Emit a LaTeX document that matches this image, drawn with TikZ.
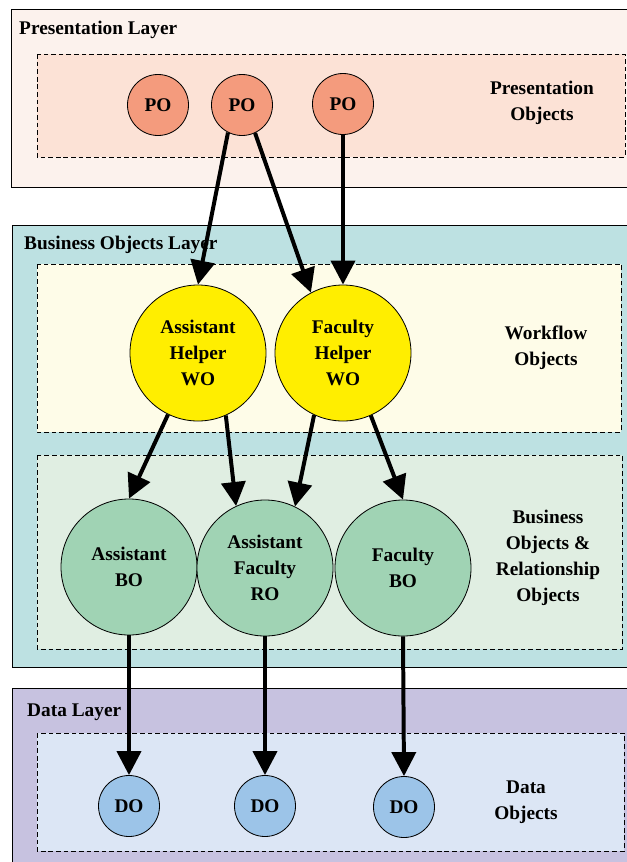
\documentclass[tikz,border=0pt]{standalone}
\usepackage{fontspec}
\setmainfont{Liberation Serif}
\usetikzlibrary{arrows.meta}

\definecolor{presout}{RGB}{252,242,237}
\definecolor{presin}{RGB}{252,226,214}
\definecolor{pofill}{RGB}{244,155,125}
\definecolor{busout}{RGB}{189,225,226}
\definecolor{wfin}{RGB}{254,252,232}
\definecolor{boin}{RGB}{224,238,226}
\definecolor{wofill}{RGB}{255,238,0}
\definecolor{bofill}{RGB}{160,211,180}
\definecolor{dataout}{RGB}{199,194,224}
\definecolor{datain}{RGB}{220,230,245}
\definecolor{dofill}{RGB}{156,196,232}

\begin{document}
\begin{tikzpicture}[x=0.03cm,y=-0.03cm,
    every node/.style={font=\fontsize{16.5}{22}\selectfont\bfseries, align=center, inner sep=0pt},
    layer/.style={draw=black, line width=0.8pt},
    group/.style={draw=black, line width=0.6pt, dash pattern=on 4pt off 2.5pt},
    obj/.style={circle, draw=black, line width=0.7pt},
    small/.style={obj, minimum size=1.83cm},
    big/.style={obj, minimum size=4.08cm},
    link/.style={line width=3.4pt, -{Triangle[length=0.72cm,width=0.72cm]}}]

        \useasboundingbox (0,0) rectangle (627,862);

        \filldraw[layer, fill=presout] (11,9) rectangle (640,187);
        \filldraw[group, fill=presin] (37,54) rectangle (625,157);
        \filldraw[layer, fill=busout] (12,225) rectangle (640,667);
        \filldraw[group, fill=wfin] (37,264) rectangle (621,432);
        \filldraw[group, fill=boin] (37,455) rectangle (622,649);
        \filldraw[layer, fill=dataout] (12,688) rectangle (640,880);
        \filldraw[group, fill=datain] (37,733) rectangle (624,851);

        \node[anchor=west] (presl) at (19,30) {Presentation Layer};
        \node[anchor=west] (busl) at (24,245) {Business Objects Layer};
        \node[anchor=west] (datal) at (27,712) {Data Layer};

        \node (prest) at (542,103) {Presentation\\Objects};
        \node (wft) at (546,348) {Workflow\\Objects};
        \node (bot) at (548,558) {Business\\Objects \&\\Relationship\\Objects};
        \node (datat) at (526,802) {Data\\Objects};

        \node[small, fill=pofill] (po1) at (158,105) {PO};
        \node[small, fill=pofill] (po2) at (242,105) {PO};
        \node[small, fill=pofill] (po3) at (343,104) {PO};

        \node[big, fill=wofill] (wo1) at (198,353) {Assistant\\Helper\\WO};
        \node[big, fill=wofill] (wo2) at (343,353) {Faculty\\Helper\\WO};

        \node[big, fill=bofill] (bo1) at (129,567) {Assistant\\BO};
        \node[big, fill=bofill] (ro) at (265,568) {Assistant\\Faculty\\RO};
        \node[big, fill=bofill] (bo2) at (403,568) {Faculty\\BO};

        \node[small, fill=dofill] (do1) at (129,806) {DO};
        \node[small, fill=dofill] (do2) at (265,806) {DO};
        \node[small, fill=dofill] (do3) at (404,807) {DO};

        \draw[link] (po2.243) -- (wo1.north);
        \draw[link] (po2.295) -- (wo2.118);
        \draw[link] (po3.south) -- (wo2.north);
        \draw[link] (wo1.244) -- (bo1.north);
        \draw[link] (wo1.294) -- (ro.115);
        \draw[link] (wo2.245) -- (ro.64);
        \draw[link] (wo2.294) -- (bo2.north);
        \draw[link] (bo1.south) -- (do1.north);
        \draw[link] (ro.south) -- (do2.north);
        \draw[link] (bo2.south) -- (do3.north);

    \end{tikzpicture}
\end{document}
